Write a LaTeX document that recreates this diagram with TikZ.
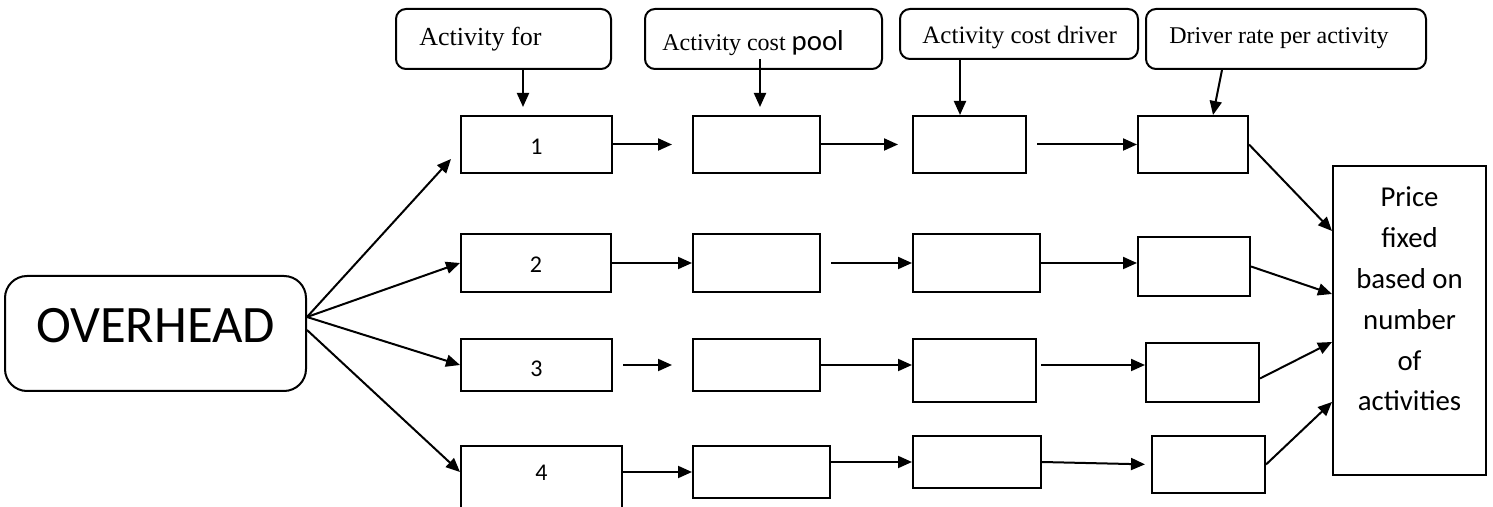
\documentclass[tikz,border=0pt]{standalone}
\usepackage{fontspec}
\setmainfont{Liberation Serif}
\newfontfamily\calib{Carlito}
\usetikzlibrary{arrows.meta,calc,fit}
\begin{document}
\begin{tikzpicture}[x=0.5pt,y=-0.5pt,
  box/.style={draw,line width=1pt,inner sep=0pt},
  lblbox/.style={box,rounded corners=5pt},
  lbltext/.style={anchor=base west,inner sep=0pt},
  arr/.style={line width=1pt,-{Triangle[length=7pt,width=6pt]}},
  num/.style={inner sep=0pt,font=\calib\fontsize{12}{14}\selectfont}
]
\useasboundingbox (0,0) rectangle (1493,507);

% overhead
\node[box,fit={(5,276)(306,391)},rounded corners=11pt] (ov) {};
\node[inner sep=0pt,font=\calib\fontsize{26.3}{30}\selectfont] (ovt) at ($(ov.center)+(0,-7.5)$) {OVERHEAD};

% label boxes
\node[lblbox,fit={(396,9)(611,69)}] (l1) {};
\node[lblbox,fit={(645,9)(882,69)}] (l2) {};
\node[lblbox,fit={(900,9)(1138,59)}] (l3) {};
\node[lblbox,fit={(1146,9)(1426,69)}] (l4) {};
\node[lbltext,font=\fontsize{13}{15}\selectfont] (t1) at ($(l1.north west)+(24,38)$) {Activity for};
\node[lbltext,font=\fontsize{12}{14}\selectfont] (t2) at ($(l2.north west)+(18,43)$) {Activity cost {\calib\fontsize{14.4}{16}\selectfont pool}};
\node[lbltext,font=\fontsize{12.5}{14}\selectfont] (t3) at ($(l3.north west)+(23,36)$) {Activity cost driver};
\node[lbltext,font=\fontsize{12}{14}\selectfont] (t4) at ($(l4.north west)+(24,36)$) {Driver rate per activity};

% row 1
\node[box,fit={(461,116)(612,173)}] (b11) {};
\node[box,fit={(693,116)(820,173)}] (b12) {};
\node[box,fit={(913,116)(1026,173)}] (b13) {};
\node[box,fit={(1138,116)(1248,173)}] (b14) {};
% row 2
\node[box,fit={(461,234)(611,292)}] (b21) {};
\node[box,fit={(693,234)(820,292)}] (b22) {};
\node[box,fit={(913,234)(1040,292)}] (b23) {};
\node[box,fit={(1138,237)(1250,296)}] (b24) {};
% row 3
\node[box,fit={(461,339)(612,391)}] (b31) {};
\node[box,fit={(693,339)(820,391)}] (b32) {};
\node[box,fit={(913,339)(1036,402)}] (b33) {};
\node[box,fit={(1146,343)(1259,402)}] (b34) {};
% row 4
\node[box,fit={(461,446)(622,540)}] (b41) {};
\node[box,fit={(693,446)(830,498)}] (b42) {};
\node[box,fit={(913,436)(1041,488)}] (b43) {};
\node[box,fit={(1152,436)(1265,493)}] (b44) {};

% numbers
\node[num] (n1) at ($(b11.center)+(0,2)$) {1};
\node[num] (n2) at ($(b21.center)+(0,2)$) {2};
\node[num] (n3) at ($(b31.center)+(0,4)$) {3};
\node[num] (n4) at ($(b41.north)+(0,28)$) {4};

% price box
\node[box,fit={(1333,166)(1486,475)}] (price) {};
\node[font=\calib\fontsize{14.4}{20.4}\selectfont,align=center,inner sep=0pt]
  (pt) at ($(price.north)+(0,134)$) {Price\\fixed\\based on\\number\\of\\activities};

% label arrows
\draw[arr,shorten >=4pt] ($(l1.south)+(19.5,0)$) coordinate (s1) -- (s1 |- b11.north);
\draw[arr,shorten >=4pt] ($(l2.south)+(-3.5,-11)$) coordinate (s2) -- (s2 |- b12.north);
\draw[arr] ($(l3.south)+(-59,0)$) coordinate (s3) -- (s3 |- b13.north);
\draw[arr] ($(l4.south)+(-64,0)$) -- ($(b14.north)+(20,0)$);

% overhead arrows
\draw[arr] ($(ov.east)+(0,-16.5)$) -- ($(b11.south west)+(-9,-15)$);
\draw[arr] ($(ov.east)+(0,-16.5)$) -- (b21.west);
\draw[arr] ($(ov.east)+(0,-16.5)$) -- (b31.west);
\draw[arr] ($(ov.east)+(0,-3.5)$) -- ($(b41.north west)+(0,27)$);

% row 1 arrows
\draw[arr,shorten >=10pt] (b11.east) -- (b12.west);
\draw[arr,shorten >=7pt] (b12.east) -- (b13.west);
\draw[arr,shorten <=5pt] (b13.east) -- (b14.west);
% row 2 arrows
\draw[arr] (b21.east) -- (b22.west);
\draw[arr,shorten <=5pt] (b22.east) -- (b23.west);
\draw[arr] (b23.east) -- (b23.east -| b24.west);
% row 3 arrows
\draw[arr,shorten <=5pt,shorten >=10pt] (b31.east) -- (b32.west);
\draw[arr] (b32.east) -- (b32.east -| b33.west);
\draw[arr,shorten <=2pt] (b33.east |- b32.east) -- (b32.east -| b34.west);
% row 4 arrows
\draw[arr] (b41.east |- b42.west) -- (b42.west);
\draw[arr] (b42.east |- b43.west) -- (b43.west);
\draw[arr,shorten >=3pt] (b43.east) -- (b44.west);

% to price
\draw[arr] (b14.east) -- ($(price.north west)+(0,66)$);
\draw[arr] (b24.east) -- ($(price.north west)+(0,129)$);
\draw[arr] ($(b34.east)+(0,6)$) -- ($(price.north west)+(0,177)$);
\draw[arr] (b44.east) -- ($(price.north west)+(0,237)$);
\end{tikzpicture}
\end{document}
